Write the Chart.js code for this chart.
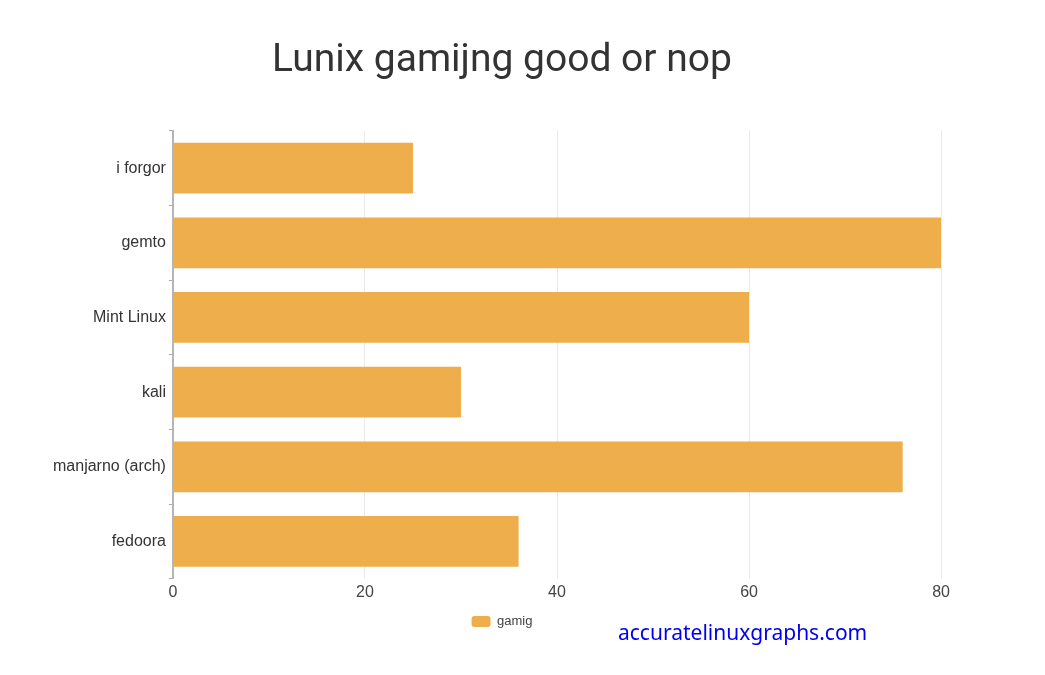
<!DOCTYPE html>
<html>
<head>
<meta charset="utf-8">
<script src="https://cdn.jsdelivr.net/npm/chart.js@4"></script>
<style>
  html, body { margin: 0; padding: 0; background: #fff; }
  body { width: 1045px; height: 675px; position: relative; overflow: hidden; }
  #wrap { position: absolute; left: 0; top: 0; width: 954px; height: 675px; }
  #wm { position: absolute; left: 618px; top: 618px; font-family: "Noto Sans", "Open Sans", sans-serif; font-size: 21px; color: #0000ee; white-space: nowrap; }
</style>
</head>
<body>
<div id="wrap"><canvas id="c"></canvas></div>
<div id="wm">accuratelinuxgraphs.com</div>
<script>
const chartTitle = "Lunix gamijng good or nop";
const categories = ["i forgor", "gemto", "Mint Linux", "kali", "manjarno (arch)", "fedoora"];
const seriesName = "gamig";
const seriesValues = [25, 80, 60, 30, 76, 36];
const xTicks = [0, 20, 40, 60, 80];

new Chart(document.getElementById('c'), {
  type: 'bar',
  data: {
    labels: categories,
    datasets: [{
      label: seriesName,
      data: seriesValues,
      backgroundColor: '#EDAE4B',
      borderWidth: 0,
      categoryPercentage: 0.8,
      barPercentage: 0.85
    }]
  },
  options: {
    indexAxis: 'y',
    responsive: true,
    maintainAspectRatio: false,
    animation: false,
    layout: { padding: { left: 50, right: 0, top: 38, bottom: 37 } },
    plugins: {
      title: {
        display: true,
        text: chartTitle,
        color: '#333',
        font: { family: 'Roboto', size: 39, weight: 'normal' },
        padding: { top: 0, bottom: 46 }
      },
      legend: {
        display: true,
        position: 'bottom',
        labels: {
          color: '#444',
          font: { family: "'Liberation Sans', Arial", size: 13 },
          boxWidth: 19, boxHeight: 11, useBorderRadius: true, borderRadius: 3,
          padding: 9
        }
      },
      tooltip: { enabled: false }
    },
    scales: {
      x: {
        min: 0, max: 80,
        afterBuildTicks: (axis) => { axis.ticks = xTicks.map(v => ({ value: v })); },
        grid: { color: '#ebebeb', drawTicks: false },
        border: { display: false },
        ticks: { color: '#444', font: { family: "'Liberation Sans', Arial", size: 16 }, padding: 4 }
      },
      y: {
        grid: { drawOnChartArea: false, tickLength: 4, color: '#aaa' },
        border: { display: true, color: '#b5b5b5', width: 2 },
        ticks: { color: '#333', font: { family: "'Liberation Sans', Arial", size: 16 }, padding: 3 }
      }
    }
  }
});
</script>
</body>
</html>
